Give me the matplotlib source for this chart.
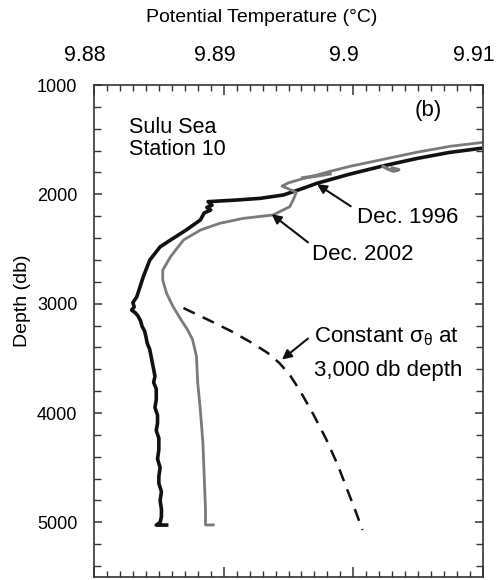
import numpy as np
import matplotlib
matplotlib.use("Agg")
import matplotlib.pyplot as plt
import matplotlib.transforms as mtransforms
from matplotlib.ticker import MultipleLocator

plt.rcParams['font.family'] = ['Liberation Sans', 'DejaVu Sans']
plt.rcParams['mathtext.default'] = 'regular'

# Dec. 1996 profile (potential temperature, depth)
temp_1996 = [9.9098, 9.9085, 9.9074, 9.9049, 9.9023, 9.8997, 9.8972, 9.8960,
             9.8946, 9.8928, 9.8910, 9.8888, 9.8891, 9.8887, 9.8890, 9.8885,
             9.8882, 9.8871, 9.8859, 9.8851, 9.8843, 9.8838, 9.8833, 9.8830,
             9.8831, 9.8829, 9.8832, 9.8834, 9.8836, 9.8837, 9.8839, 9.8840,
             9.8841, 9.8843, 9.8844, 9.8845, 9.8846, 9.8847, 9.8846, 9.8848,
             9.8848, 9.8847, 9.8849, 9.8849, 9.8848, 9.8850, 9.8850, 9.8849,
             9.8851, 9.8850, 9.8850, 9.8852, 9.8851, 9.8852, 9.8852, 9.8851,
             9.8848, 9.8856]
depth_1996 = [1580, 1600, 1617, 1672, 1740, 1816, 1899, 1950,
              2006, 2037, 2052, 2067, 2100, 2120, 2144, 2170,
              2235, 2327, 2418, 2480, 2601, 2754, 2937, 2990,
              3030, 3059, 3085, 3114, 3160, 3206, 3250, 3298,
              3360, 3420, 3480, 3542, 3600, 3664, 3720, 3780,
              3878, 3950, 4020, 4092, 4160, 4230, 4336, 4420,
              4500, 4580, 4642, 4720, 4800, 4880, 4948, 5000,
              5025, 5025]

# Dec. 2002 profile
temp_2002 = [9.9100, 9.9075, 9.9049, 9.9023, 9.8997, 9.8982, 9.8970, 9.8960,
             9.8950, 9.8945, 9.8950, 9.8956, 9.8954, 9.8951, 9.8938, 9.8915,
             9.8897, 9.8882, 9.8869, 9.8859, 9.8853, 9.8853, 9.8856, 9.8861,
             9.8867, 9.8872, 9.8876, 9.8879, 9.8880, 9.8882, 9.8884, 9.8885,
             9.8886, 9.8886, 9.8892]
depth_2002 = [1525, 1560, 1615, 1680, 1745, 1790, 1830, 1860,
              1895, 1925, 1950, 1982, 2040, 2113, 2189, 2220,
              2265, 2327, 2418, 2571, 2693, 2784, 2906, 3028,
              3145, 3236, 3328, 3481, 3725, 3970, 4275, 4581,
              4886, 5024, 5024]

# scattered patches of the 2002 cast in the upper part
patch_temp = [9.9023, 9.9027, 9.9031, 9.9035, 9.9030]
patch_depth = [1745, 1770, 1788, 1775, 1760]
patch2_temp = [9.8961, 9.8968, 9.8975, 9.8982]
patch2_depth = [1850, 1838, 1825, 1812]

# constant sigma-theta line referenced at 3,000 db
sig_temp = [9.8869, 9.8890, 9.8907, 9.8922, 9.8934, 9.8943, 9.8951, 9.8959,
            9.8969, 9.8979, 9.8988, 9.8996, 9.9002, 9.9007]
sig_depth = [3040, 3159, 3259, 3360, 3451, 3543, 3652, 3799,
             4009, 4238, 4476, 4723, 4906, 5070]

fig = plt.figure(figsize=(4.96, 5.8), dpi=100)
ax = fig.add_axes([94/496, 1-577/580, (483-94)/496, (577-85)/580])

ax.plot(temp_1996, depth_1996, color='#111111', lw=2.6)
ax.plot(temp_2002, depth_2002, color='#7a7a7a', lw=2.0)
ax.plot(patch_temp, patch_depth, color='#7a7a7a', lw=2.5)
ax.plot(patch2_temp, patch2_depth, color='#7a7a7a', lw=2.5)
ax.plot(sig_temp, sig_depth, color='#111111', lw=1.8, ls=(0, (5, 3.5)))

ax.set_xlim(9.88, 9.91)
ax.set_ylim(5500, 1000)

ax.set_xticks([9.88, 9.89, 9.90, 9.91])
ax.set_xticklabels(['9.88', '9.89', '9.9', '9.91'])
ax.xaxis.set_minor_locator(MultipleLocator(0.001))
ax.set_yticks([1000, 2000, 3000, 4000, 5000])
ax.yaxis.set_minor_locator(MultipleLocator(200))

ax.tick_params(axis='x', which='both', direction='in', top=True, bottom=True,
               labeltop=True, labelbottom=False, labelsize=15.5, pad=14, color='#333333')
ax.tick_params(axis='x', which='major', length=7, width=1.1)
ax.tick_params(axis='x', which='minor', length=4, width=1.0)
ax.tick_params(axis='y', which='both', direction='in', left=True, right=True,
               labelsize=13, pad=12, color='#333333')
ax.tick_params(axis='y', which='major', length=6, width=1.1)
ax.tick_params(axis='y', which='minor', length=5, width=1.0)
for s in ax.spines.values():
    s.set_color('#333333')
    s.set_linewidth(1.2)

shift = mtransforms.ScaledTranslation(-9/100, 0, fig.dpi_scale_trans)
for lab in ax.get_xticklabels():
    lab.set_transform(lab.get_transform() + shift)

fig.text(262/496, 1-18/580, 'Potential Temperature (°C)', ha='center', va='center', fontsize=14)
fig.text(23/496, 1-301/580, 'Depth (db)', ha='center', va='center', rotation=90, fontsize=14)

ax.text(9.8827, 1490, 'Sulu Sea\nStation 10', ha='left', va='center', fontsize=15.5, linespacing=1.1)
ax.text(9.9058, 1235, '(b)', ha='center', va='center', fontsize=16)

arrow = dict(arrowstyle='-|>', color='#111111', lw=1.5, mutation_scale=14, shrinkA=0, shrinkB=0)
ax.annotate('', xy=(9.8972, 1907), xytext=(9.8998, 2109), arrowprops=arrow)
ax.text(9.9003, 2215, 'Dec. 1996', ha='left', va='center', fontsize=16)
ax.annotate('', xy=(9.8937, 2182), xytext=(9.8965, 2439), arrowprops=arrow)
ax.text(9.8968, 2550, 'Dec. 2002', ha='left', va='center', fontsize=16)
ax.annotate('', xy=(9.8945, 3511), xytext=(9.8965, 3319), arrowprops=arrow)
ax.text(9.8970, 3300, r'Constant $\sigma_\theta$ at', ha='left', va='center', fontsize=16)
ax.text(9.8970, 3612, '3,000 db depth', ha='left', va='center', fontsize=16)

fig.savefig('out.png', dpi=100)
